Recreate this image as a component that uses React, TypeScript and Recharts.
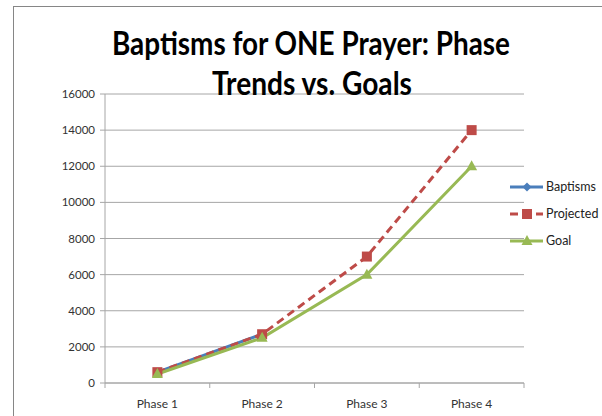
import React from 'react';
import { LineChart, Line, XAxis, YAxis, CartesianGrid } from 'recharts';

const phases = ['Phase 1', 'Phase 2', 'Phase 3', 'Phase 4'];
const baptisms = [600, 2700, null, null];
const projected = [600, 2700, 7000, 14000];
const goal = [500, 2500, 6000, 12000];
const yTicks = [0, 2000, 4000, 6000, 8000, 10000, 12000, 14000, 16000];

const titleLines = ['Baptisms for ONE Prayer: Phase', 'Trends vs. Goals'];

const BLUE = '#4a7ebb';
const RED = '#be4b48';
const GREEN = '#98b954';
const GRID = '#a6a6a6';
const FONT = 'Lato, "Liberation Sans", sans-serif';

const data = phases.map((phase, i) => ({
  phase,
  baptisms: baptisms[i],
  projected: projected[i],
  goal: goal[i],
}));

const TICK_SIZE = 5;
const TICK_MARGIN = 11;

// markers
const Diamond = ({ cx, cy, color }: any) =>
  cx == null || cy == null ? null : (
    <path d={`M${cx},${cy - 4.5} L${cx + 4.5},${cy} L${cx},${cy + 4.5} L${cx - 4.5},${cy} Z`} fill={color} />
  );
const Square = ({ cx, cy, color }: any) =>
  cx == null || cy == null ? null : <rect x={cx - 5} y={cy - 5} width={10} height={10} fill={color} />;
const Triangle = ({ cx, cy, color }: any) =>
  cx == null || cy == null ? null : (
    <path d={`M${cx},${cy - 6} L${cx + 5.5},${cy + 4} L${cx - 5.5},${cy + 4} Z`} fill={color} />
  );

const series = [
  { key: 'baptisms', name: 'Baptisms', color: BLUE, dash: undefined, Marker: Diamond },
  { key: 'projected', name: 'Projected', color: RED, dash: '8 5', Marker: Square },
  { key: 'goal', name: 'Goal', color: GREEN, dash: undefined, Marker: Triangle },
];

// x tick: label at band centre, tick marks at band edges
const PhaseTick = (props: any) => {
  const { x, y, payload, index, visibleTicksCount } = props;
  const half = payload.offset || 0;
  const axisY = y - TICK_SIZE - TICK_MARGIN;
  return (
    <g>
      <line x1={x - half} x2={x - half} y1={axisY} y2={axisY + TICK_SIZE} stroke={GRID} />
      {index === visibleTicksCount - 1 && (
        <line x1={x + half} x2={x + half} y1={axisY} y2={axisY + TICK_SIZE} stroke={GRID} />
      )}
      <text x={x} y={y} dy={9} textAnchor="middle" fontFamily={FONT} fontSize={12} fill="#333">
        {payload.value}
      </text>
    </g>
  );
};

const Legend = () => (
  <div style={{ position: 'absolute', left: 509, top: 173, fontFamily: FONT, fontSize: 12.5, color: '#222' }}>
    {series.map((s) => (
      <div key={s.key} style={{ display: 'flex', alignItems: 'center', height: 27 }}>
        <svg width={35} height={14}>
          <line x1={1} x2={34} y1={7} y2={7} stroke={s.color} strokeWidth={3} strokeDasharray={s.dash} />
          <s.Marker cx={18} cy={7} color={s.color} />
        </svg>
        <span style={{ marginLeft: 2 }}>{s.name}</span>
      </div>
    ))}
  </div>
);

export default function App() {
  return (
    <div style={{ position: 'absolute', left: 0, top: 0, width: 602, height: 416, overflow: 'hidden', background: '#fff' }}>
      <div style={{ position: 'absolute', left: 13, top: 6, width: 620, height: 430, border: '1px solid #868686' }} />
      <LineChart width={602} height={416} data={data} margin={{ top: 94, right: 78, bottom: 0, left: 0 }}>
        <CartesianGrid vertical={false} stroke={GRID} />
        <XAxis
          dataKey="phase"
          scale="band"
          height={33}
          tickLine={false}
          tickSize={TICK_SIZE}
          tickMargin={TICK_MARGIN}
          axisLine={{ stroke: GRID }}
          tick={<PhaseTick />}
          interval={0}
        />
        <YAxis
          domain={[0, 16000]}
          ticks={yTicks}
          interval={0}
          width={105}
          tickSize={TICK_SIZE}
          tickMargin={5}
          axisLine={{ stroke: GRID }}
          tickLine={{ stroke: GRID }}
          tick={{ fontFamily: FONT, fontSize: 11.5, fill: '#333' }}
        />
        {series.map((s) => (
          <Line
            key={s.key}
            dataKey={s.key}
            name={s.name}
            stroke={s.color}
            strokeWidth={3}
            strokeDasharray={s.dash}
            type="linear"
            isAnimationActive={false}
            dot={(p: any) => <s.Marker key={`${s.key}-${p.index}`} cx={p.cx} cy={p.cy} color={s.color} />}
            activeDot={false}
          />
        ))}
      </LineChart>
      <svg width={602} height={110} style={{ position: 'absolute', left: 0, top: 0, pointerEvents: 'none' }}>
        <text x={311} y={55} textAnchor="middle" fontFamily={FONT} fontWeight="bold" fontSize={32} textLength={398} lengthAdjust="spacingAndGlyphs" fill="#000">
          {titleLines[0]}
        </text>
        <text x={312} y={95} textAnchor="middle" fontFamily={FONT} fontWeight="bold" fontSize={32} textLength={200} lengthAdjust="spacingAndGlyphs" fill="#000">
          {titleLines[1]}
        </text>
      </svg>
      <Legend />
    </div>
  );
}
